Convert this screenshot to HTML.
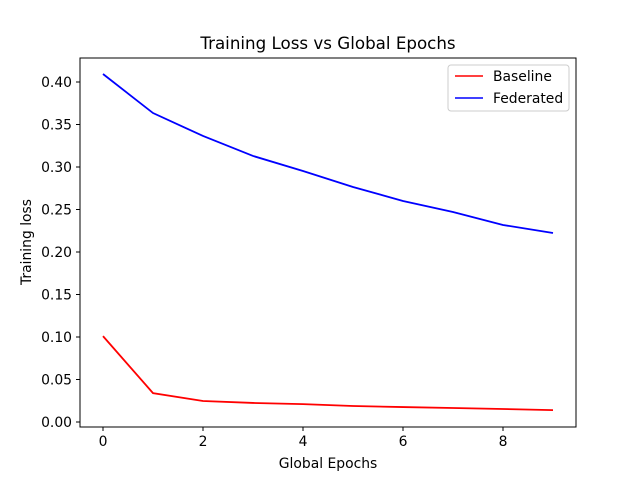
<!DOCTYPE html>
<html><head><meta charset="utf-8"><style>
body{margin:0;background:#fff}
svg text{font-family:"DejaVu Sans","Liberation Sans",sans-serif;fill:#000}
</style></head><body>
<svg id="chart" width="640" height="480">
<rect width="640" height="480" fill="#fff"/>
<text x="328" y="49" font-size="16.7" text-anchor="middle">Training Loss vs Global Epochs</text>
<text x="328" y="468" font-size="13.9" text-anchor="middle">Global Epochs</text>
<text x="31" y="242" font-size="13.9" text-anchor="middle" transform="rotate(-90 31 242)">Training loss</text>
<g id="axes"></g>
<g id="series"></g>
<rect x="80" y="58" width="496" height="369" fill="none" stroke="#000" stroke-width="1"/>
<g>
<rect x="448" y="65" width="121" height="46" fill="#fff" stroke="#ccc" rx="3"/>
<line x1="455" y1="76" x2="483" y2="76" stroke="red" stroke-width="1.5"/>
<text x="493" y="81" font-size="13.9">Baseline</text>
<line x1="455" y1="98" x2="483" y2="98" stroke="blue" stroke-width="1.5"/>
<text x="493" y="103" font-size="13.9">Federated</text>
</g>
</svg>
<script>
const epochs=[0,1,2,3,4,5,6,7,8,9];
const baseline=[0.101,0.034,0.0247,0.0224,0.021,0.0188,0.0176,0.0165,0.0153,0.014];
const federated=[0.4094,0.3635,0.3365,0.313,0.2953,0.2765,0.26,0.247,0.2318,0.2224];
const xTicks=[0,2,4,6,8];
const yTicks=[0,0.05,0.1,0.15,0.2,0.25,0.3,0.35,0.4];
const NS="http://www.w3.org/2000/svg";
const xs=v=>103+v*50;
const ys=v=>422-v*850;
const axes=document.getElementById('axes');
xTicks.forEach(t=>{
 const l=document.createElementNS(NS,'line');
 l.setAttribute('x1',xs(t));l.setAttribute('x2',xs(t));l.setAttribute('y1',427);l.setAttribute('y2',431);l.setAttribute('stroke','#000');
 
 
 axes.appendChild(l);
 const tx=document.createElementNS(NS,'text');
 tx.setAttribute('x',xs(t));tx.setAttribute('y',446);tx.setAttribute('font-size','13.9');tx.setAttribute('text-anchor','middle');
 tx.textContent=t;
 
 
 axes.appendChild(tx);
});
yTicks.forEach(t=>{
 const l=document.createElementNS(NS,'line');
 l.setAttribute('x1',76);l.setAttribute('x2',80);l.setAttribute('y1',ys(t));l.setAttribute('y2',ys(t));l.setAttribute('stroke','#000');
 
 
 axes.appendChild(l);
 const tx=document.createElementNS(NS,'text');
 tx.setAttribute('x',72);tx.setAttribute('y',ys(t)+5);tx.setAttribute('font-size','13.9');tx.setAttribute('text-anchor','end');
 tx.textContent=t.toFixed(2);
 
 
 axes.appendChild(tx);
});
const series=document.getElementById('series');
function line(vals,color,name){
 const p=document.createElementNS(NS,'polyline');
 p.setAttribute('points',vals.map((v,i)=>xs(epochs[i])+','+ys(v)).join(' '));
 p.setAttribute('fill','none');p.setAttribute('stroke',color);p.setAttribute('stroke-width','1.8');
 
 
 series.appendChild(p);
}
line(baseline,'red','baseline-line');
line(federated,'blue','federated-line');
</script>
</body></html>
